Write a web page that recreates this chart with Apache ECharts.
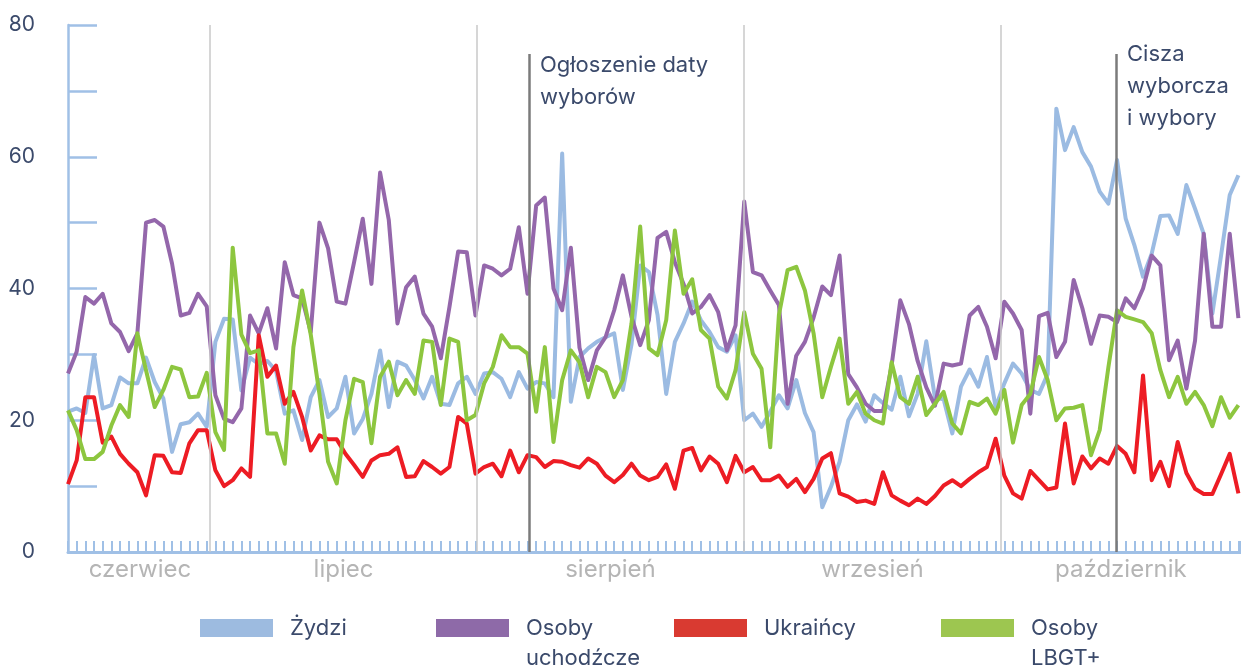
<!DOCTYPE html>
<html>
<head>
<meta charset="utf-8">
<script src="https://cdn.jsdelivr.net/npm/echarts@6/dist/echarts.min.js"></script>
<style>
  html, body { margin: 0; padding: 0; background: #fff; }
  #chart { width: 1241px; height: 670px; }
</style>
</head>
<body>
<div id="chart"></div>
<script>
// one value per day, index 0 = first day on the chart
const zydzi = [
  21.3, 21.8, 21.1, 29.9, 21.8, 22.3, 26.5, 25.6, 25.6, 29.5,
  25.8, 23.3, 15.2, 19.4, 19.7, 21.0, 19.0, 31.9, 35.4, 35.3,
  24.5, 29.5, 28.5, 29.0, 27.5, 21.0, 21.5, 17.0, 23.5, 26.1,
  20.5, 21.8, 26.6, 18.0, 20.2, 24.0, 30.6, 22.0, 28.9, 28.3,
  26.1, 23.3, 26.6, 22.5, 22.3, 25.6, 26.6, 24.0, 27.1, 27.3,
  26.3, 23.5, 27.3, 24.8, 25.8, 25.6, 23.5, 60.5, 22.8, 29.6,
  30.9, 31.9, 32.6, 33.2, 24.6, 31.5, 43.5, 42.5, 36.0, 24.0,
  31.9, 34.7, 38.0, 35.2, 33.4, 31.1, 30.4, 32.9, 20.0, 21.0,
  19.0, 21.3, 23.8, 21.8, 26.1, 21.1, 18.2, 6.8, 9.9, 13.7,
  20.0, 22.4, 19.8, 23.8, 22.6, 21.6, 26.6, 20.6, 24.0, 32.0,
  23.4, 23.2, 18.0, 25.1, 27.7, 25.1, 29.6, 22.0, 25.6, 28.6,
  27.1, 24.6, 24.0, 27.0, 67.3, 61.0, 64.5, 60.7, 58.5, 54.7,
  52.9, 59.5, 50.6, 46.6, 41.8, 45.3, 51.0, 51.1, 48.3, 55.7,
  52.1, 48.3, 36.2, 45.0, 54.2, 57.2
];
const uchodzcy = [
  27.1, 30.4, 38.7, 37.7, 39.2, 34.7, 33.4, 30.5, 33.2, 50.0,
  50.4, 49.4, 43.8, 35.9, 36.3, 39.2, 37.3, 23.8, 20.2, 19.7,
  21.8, 35.9, 33.2, 37.0, 30.9, 44.0, 39.0, 38.5, 33.4, 50.0,
  46.1, 38.0, 37.7, 44.0, 50.6, 40.7, 57.6, 50.4, 34.7, 40.2,
  41.8, 36.2, 34.2, 29.4, 37.2, 45.6, 45.5, 35.9, 43.5, 43.0,
  42.0, 43.0, 49.3, 39.2, 52.6, 53.8, 40.0, 36.7, 46.2, 31.0,
  26.1, 30.6, 32.6, 36.7, 42.0, 35.7, 31.4, 35.2, 47.7, 48.6,
  44.0, 40.7, 36.2, 37.2, 39.0, 36.4, 30.6, 34.4, 53.2, 42.5,
  42.0, 39.7, 37.5, 22.5, 29.8, 31.9, 35.6, 40.3, 39.0, 45.0,
  27.0, 25.0, 22.5, 21.4, 21.4, 28.3, 38.2, 34.6, 29.0, 25.0,
  22.2, 28.6, 28.3, 28.6, 35.9, 37.2, 34.2, 29.4, 38.0, 36.2,
  33.7, 21.0, 35.8, 36.3, 29.6, 31.9, 41.3, 37.0, 31.6, 35.9,
  35.7, 34.9, 38.5, 37.0, 40.0, 45.0, 43.5, 29.1, 32.1, 24.8,
  32.1, 48.3, 34.2, 34.2, 48.3, 35.5
];
const ukraincy = [
  10.3, 13.9, 23.5, 23.5, 16.6, 17.5, 14.9, 13.4, 12.1, 8.6,
  14.7, 14.6, 12.1, 12.0, 16.5, 18.5, 18.5, 12.4, 10.0, 10.9,
  12.7, 11.4, 32.9, 26.6, 28.3, 22.5, 24.3, 20.5, 15.4, 17.7,
  17.1, 17.1, 14.9, 13.2, 11.4, 13.9, 14.7, 14.9, 15.9, 11.4,
  11.5, 13.8, 12.9, 11.9, 12.9, 20.5, 19.5, 11.9, 12.9, 13.4,
  11.5, 15.4, 12.1, 14.7, 14.4, 12.9, 13.8, 13.7, 13.2, 12.8,
  14.2, 13.4, 11.6, 10.6, 11.7, 13.4, 11.6, 10.9, 11.4, 13.3,
  9.6, 15.4, 15.8, 12.4, 14.5, 13.4, 10.6, 14.6, 12.1, 12.9,
  10.9, 10.9, 11.6, 9.9, 11.1, 9.1, 11.1, 14.2, 15.0, 8.9,
  8.4, 7.6, 7.8, 7.3, 12.1, 8.6, 7.8, 7.1, 8.1, 7.3,
  8.5, 10.1, 10.9, 10.0, 11.1, 12.1, 12.9, 17.2, 11.6, 8.9,
  8.1, 12.3, 10.9, 9.5, 9.8, 19.5, 10.4, 14.5, 12.7, 14.2,
  13.4, 16.1, 14.9, 12.1, 26.8, 10.9, 13.7, 10.0, 16.7, 12.0,
  9.6, 8.8, 8.8, 11.8, 14.9, 8.9
];
const lgbt = [
  21.5, 18.5, 14.1, 14.1, 15.2, 19.2, 22.3, 20.5, 33.2, 27.6,
  22.0, 24.6, 28.1, 27.7, 23.5, 23.6, 27.2, 18.2, 15.5, 46.2,
  33.0, 30.2, 30.6, 18.0, 18.0, 13.4, 31.1, 39.7, 33.0, 24.0,
  13.7, 10.4, 20.0, 26.3, 25.8, 16.5, 26.6, 28.9, 23.8, 26.1,
  24.0, 32.1, 31.9, 22.3, 32.4, 31.9, 20.0, 20.8, 25.6, 28.1,
  32.9, 31.1, 31.1, 30.1, 21.3, 31.1, 16.7, 26.1, 30.6, 28.8,
  23.5, 28.1, 27.3, 23.5, 26.1, 34.7, 49.4, 30.9, 29.9, 35.2,
  48.8, 39.2, 41.4, 33.7, 32.4, 25.1, 23.3, 27.6, 36.4, 30.1,
  27.8, 15.9, 36.0, 42.8, 43.3, 39.7, 33.2, 23.5, 28.1, 32.4,
  22.5, 24.3, 21.0, 20.0, 19.5, 28.8, 23.5, 22.5, 26.6, 20.8,
  22.5, 24.3, 19.5, 18.0, 22.8, 22.3, 23.3, 21.0, 24.6, 16.6,
  22.3, 24.0, 29.6, 26.1, 20.0, 21.8, 21.9, 22.3, 14.7, 18.5,
  28.0, 36.7, 35.7, 35.3, 34.9, 33.2, 27.6, 23.5, 26.6, 22.5,
  24.3, 22.3, 19.1, 23.5, 20.4, 22.3
];

const seriesNames = ['Żydzi', 'Osoby\nuchodźcze', 'Ukraińcy', 'Osoby\nLBGT+'];
const monthNames = ['czerwiec', 'lipiec', 'sierpień', 'wrzesień', 'październik'];
const yTicks = [0, 20, 40, 60, 80];
const notes = ['Ogłoszenie daty\nwyborów', 'Cisza\nwyborcza\ni wybory'];

// layout, in day-index units of the x axis
const monthLabelAt = [8.3, 31.78, 62.57, 92.79, 121.45];
const monthStartAt = [16.38, 47.17, 77.97, 107.61];
const noteAt = [53.17, 120.88];
const noteTop = 75.6;
const xMax = 135.3;

const lineColors = ['#9bbbe2', '#9467ab', '#ed1c24', '#8dc63f'];
const legendColors = ['#9dbbe0', '#8e6aa8', '#d93a31', '#9dc650'];
const legendLeft = [200, 436, 674, 941];
const navy = '#3b4a6b';
const axisBlue = '#a0c0e6';
const font = 'Inter';

const chart = echarts.init(document.getElementById('chart'));
const toPairs = arr => arr.map((v, i) => [i, v]);
const allValues = [zydzi, uchodzcy, ukraincy, lgbt];

const series = allValues.map((vals, k) => {
  const s = {
    name: seriesNames[k],
    type: 'line',
    data: toPairs(vals),
    showSymbol: false,
    symbol: 'none',
    lineStyle: { width: 4, color: lineColors[k], join: 'round' },
    itemStyle: { color: lineColors[k] },
    silent: true,
    animation: false
  };
  if (k === 0) {
    s.markLine = {
      silent: true,
      symbol: 'none',
      label: { show: false },
      data: monthStartAt.map(x => ({ xAxis: x, lineStyle: { color: '#c9c9c9', width: 1.5, type: 'solid' } }))
        .concat(noteAt.map(x => [
          { coord: [x, 0], lineStyle: { color: '#7b7b7b', width: 2.5, type: 'solid' } },
          { coord: [x, noteTop] }
        ]))
    };
  }
  return s;
});

// one legend per item so each sits where it does in the original
const legends = seriesNames.map((name, k) => {
  const twoLines = name.indexOf('\n') >= 0;
  return {
    data: [{ name: name, itemStyle: { color: legendColors[k] } }],
    left: legendLeft[k],
    top: twoLines ? 583 : 613,
    padding: 0,
    icon: 'rect',
    itemWidth: 73,
    itemHeight: 18,
    selectedMode: false,
    // empty first line keeps the first text line level with the swatch
    formatter: n => (n.indexOf('\n') >= 0 ? '\n' + n : n),
    textStyle: {
      fontFamily: font,
      fontSize: 22,
      color: navy,
      lineHeight: 30,
      padding: [0, 0, 0, 12]
    }
  };
});

chart.setOption({
  animation: false,
  backgroundColor: '#ffffff',
  grid: { left: 68, right: 0, top: 25, bottom: 118, containLabel: false },
  legend: legends,
  xAxis: [
    {
      type: 'value',
      min: 0,
      max: xMax,
      interval: 1,
      axisLine: { show: true, lineStyle: { color: axisBlue, width: 3 } },
      axisTick: { show: true, inside: true, length: 11, lineStyle: { color: axisBlue, width: 2 } },
      axisLabel: { show: false },
      splitLine: { show: false }
    },
    {
      type: 'value',
      min: 0,
      max: xMax,
      position: 'bottom',
      axisLine: { show: false },
      axisTick: { show: false },
      splitLine: { show: false },
      axisLabel: {
        show: true,
        customValues: monthLabelAt,
        margin: 6,
        color: '#b5b5b5',
        fontFamily: font,
        fontSize: 24,
        formatter: v => {
          const i = monthLabelAt.findIndex(p => Math.abs(p - v) < 0.01);
          return i >= 0 ? monthNames[i] : '';
        }
      }
    }
  ],
  yAxis: {
    type: 'value',
    min: 0,
    max: 80,
    interval: 10,
    axisLine: { show: true, lineStyle: { color: axisBlue, width: 2.5 } },
    axisTick: { show: true, inside: true, length: 29, lineStyle: { color: axisBlue, width: 2.5 } },
    splitLine: { show: false },
    axisLabel: {
      margin: 33,
      color: navy,
      fontFamily: font,
      fontSize: 21,
      formatter: v => (yTicks.indexOf(v) >= 0 ? String(v) : '')
    }
  },
  series: series
});

// event captions beside the two dark lines
const p1 = chart.convertToPixel({ gridIndex: 0 }, [noteAt[0], noteTop]);
const p2 = chart.convertToPixel({ gridIndex: 0 }, [noteAt[1], noteTop]);
chart.setOption({
  graphic: [
    {
      type: 'text', left: p1[0] + 11, top: p1[1] - 5,
      style: { text: notes[0], fill: navy, fontFamily: font, fontSize: 22, lineHeight: 32 }
    },
    {
      type: 'text', left: p2[0] + 11, top: p2[1] - 16,
      style: { text: notes[1], fill: navy, fontFamily: font, fontSize: 22, lineHeight: 32 }
    }
  ]
});
</script>
</body>
</html>
